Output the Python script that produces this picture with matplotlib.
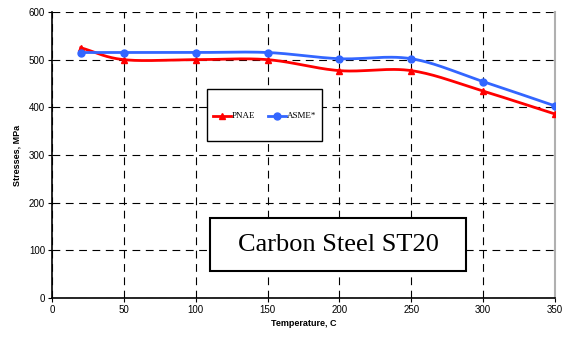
import matplotlib.pyplot as plt
from matplotlib.patches import Rectangle
from matplotlib.lines import Line2D
import numpy as np

temps = [20, 50, 100, 150, 200, 250, 300, 350]
pnae = [525, 500, 500, 500, 477, 477, 434, 386]
asme = [515, 515, 515, 515, 502, 502, 454, 403]

xticks = [0, 50, 100, 150, 200, 250, 300, 350]
yticks = [0, 100, 200, 300, 400, 500, 600]

W, H = 580, 338


def smooth(x, y, n=30):
    # Catmull-Rom curve through the points, like Excel's smoothed line
    x = np.asarray(x, float)
    y = np.asarray(y, float)
    px = np.concatenate([[2 * x[0] - x[1]], x, [2 * x[-1] - x[-2]]])
    py = np.concatenate([[2 * y[0] - y[1]], y, [2 * y[-1] - y[-2]]])
    xs, ys = [], []
    t = np.linspace(0, 1, n)
    for i in range(1, len(px) - 2):
        for p, out in ((px, xs), (py, ys)):
            p0, p1, p2, p3 = p[i - 1], p[i], p[i + 1], p[i + 2]
            c = 0.5 * ((2 * p1) + (-p0 + p2) * t + (2 * p0 - 5 * p1 + 4 * p2 - p3) * t ** 2
                       + (-p0 + 3 * p1 - 3 * p2 + p3) * t ** 3)
            out.extend(c)
    return np.array(xs), np.array(ys)


fig = plt.figure(figsize=(5.8, 3.38), dpi=100)
ax = fig.add_axes([52 / W, 1 - 298 / H, 503 / W, 286 / H])

sx, sy = smooth(temps, pnae)
ax.plot(sx, sy, color="#ff0000", lw=2, zorder=3)
ax.plot(temps, pnae, ls="none", marker="^", color="#ff0000", ms=5, zorder=4)
sx, sy = smooth(temps, asme)
ax.plot(sx, sy, color="#3366ff", lw=2, zorder=3)
ax.plot(temps, asme, ls="none", marker="o", color="#3366ff", ms=5, zorder=4)

# legend box drawn by hand
fig.patches.append(Rectangle((207 / W, 1 - 141 / H), 115 / W, 52 / H,
                             transform=fig.transFigure, fc="white", ec="black",
                             lw=1, zorder=5))
ly = 1 - 116 / H
for x0, x1, col, mk, name in [(213, 231, "#ff0000", "^", "PNAE"),
                              (268, 286, "#3366ff", "o", "ASME*")]:
    fig.lines.append(Line2D([x0 / W, x1 / W], [ly, ly], transform=fig.transFigure,
                            color=col, lw=2, zorder=6))
    fig.lines.append(Line2D([(x0 + x1) / 2 / W], [ly], transform=fig.transFigure,
                            color=col, marker=mk, ms=5, zorder=7))
    fig.text((x1 + 1) / W, ly, name, family="Liberation Serif", fontsize=6.5,
             ha="left", va="center", zorder=7)

# title box
fig.patches.append(Rectangle((210 / W, 1 - 271 / H), 256 / W, 53 / H,
                             transform=fig.transFigure, fc="white", ec="black",
                             lw=1.5, zorder=5))
fig.text(338 / W, 1 - 245 / H, "Carbon Steel ST20", family="Liberation Serif",
         fontsize=19, ha="center", va="center", zorder=6)

ax.set_xlim(0, 350)
ax.set_ylim(0, 600)
ax.set_xticks(xticks)
ax.set_yticks(yticks)
ax.grid(True, color="black", lw=0.8, linestyle=(0, (7, 5)))
ax.set_axisbelow(True)
for lab in ax.get_xticklabels() + ax.get_yticklabels():
    lab.set_family("Liberation Sans")
    lab.set_fontsize(7)
ax.tick_params(length=3, width=0.8, pad=2)
ax.spines["top"].set_visible(False)
ax.spines["right"].set_color("#b0b0b0")
ax.spines["right"].set_linewidth(1.5)
ax.spines["left"].set_linewidth(1.2)
ax.spines["bottom"].set_linewidth(1.2)

ax.set_xlabel("Temperature, C", family="Liberation Sans", fontsize=6.5,
              fontweight="bold", labelpad=3)
ax.set_ylabel("Stresses, MPa", family="Liberation Sans", fontsize=6.5,
              fontweight="bold", labelpad=5)

fig.savefig("out.png", dpi=100)
